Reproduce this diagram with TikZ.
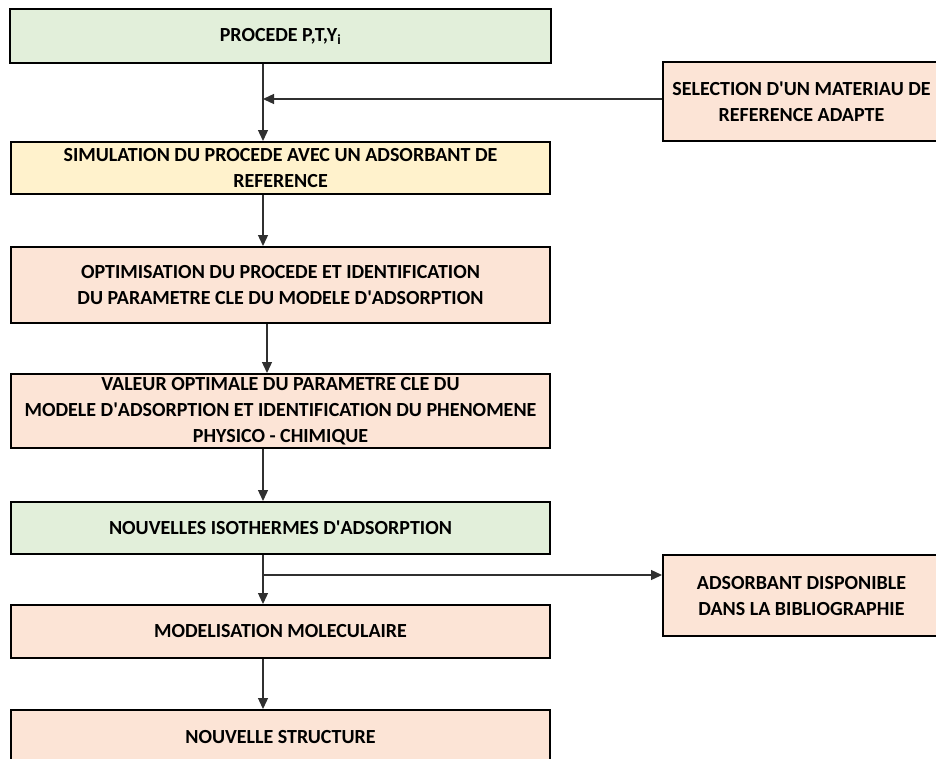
\documentclass[tikz,border=0pt]{standalone}
\usepackage{fontspec}
\setmainfont{Carlito}
\usetikzlibrary{arrows.meta,calc}
\definecolor{gfill}{HTML}{E2EFDA}
\definecolor{yfill}{HTML}{FFF2CC}
\definecolor{pfill}{HTML}{FCE4D6}
\definecolor{lnc}{HTML}{303030}
\newcommand{\ap}{\textquotesingle}
\tikzset{
  box/.style={draw=black, line width=2pt, rectangle, align=center,
    font=\fontsize{20}{26}\selectfont\bfseries, inner sep=0pt},
  flow/.style={draw=lnc, line width=1.3pt, -{Triangle[length=11pt,width=10pt]}},
}
\begin{document}
\begin{tikzpicture}[x=1pt,y=-1pt]
\useasboundingbox (0,0) rectangle (936,758);
\node[box, fill=gfill, minimum width=541pt, minimum height=54pt] (b1) at (280.5,36) {PROCEDE P,T,Y\textsubscript{i}};
\node[box, fill=pfill, minimum width=277pt, minimum height=79pt] (sel) at (801.5,101.5) {SELECTION D\ap UN MATERIAU DE\\REFERENCE ADAPTE};
\node[box, fill=yfill, minimum width=539pt, minimum height=52pt] (b2) at (280.5,168) {SIMULATION DU PROCEDE AVEC UN ADSORBANT DE\\REFERENCE};
\node[box, fill=pfill, minimum width=539pt, minimum height=76pt] (b3) at (280.5,285) {OPTIMISATION DU PROCEDE ET IDENTIFICATION\\DU PARAMETRE CLE DU MODELE D\ap ADSORPTION};
\node[box, fill=pfill, minimum width=539pt, minimum height=74pt] (b4) at (280.5,411) {VALEUR OPTIMALE DU PARAMETRE CLE DU\\MODELE D\ap ADSORPTION ET IDENTIFICATION DU PHENOMENE\\PHYSICO - CHIMIQUE};
\node[box, fill=gfill, minimum width=539pt, minimum height=52pt] (b5) at (280.5,528) {NOUVELLES ISOTHERMES D\ap ADSORPTION};
\node[box, fill=pfill, minimum width=277pt, minimum height=81pt] (ads) at (801.5,595.5) {ADSORBANT DISPONIBLE\\DANS LA BIBLIOGRAPHIE};
\node[box, fill=pfill, minimum width=539pt, minimum height=53pt] (b6) at (280.5,631.5) {MODELISATION MOLECULAIRE};
\node[box, fill=pfill, minimum width=539pt, minimum height=54pt] (b7) at (280.5,737) {NOUVELLE STRUCTURE};
\coordinate (sp) at (263,0);
\coordinate (sp2) at (267,0);
\coordinate (j1) at (263,99);
\coordinate (br) at (263,575);
\draw[flow] (b1.south -| sp) -- (b2.north -| sp);
\draw[flow] (sel.west |- j1) -- (j1);
\draw[flow] (b2.south -| sp) -- (b3.north -| sp);
\draw[flow] (b3.south -| sp2) -- (b4.north -| sp2);
\draw[flow] (b4.south -| sp) -- (b5.north -| sp);
\draw[flow] (b5.south -| sp) -- (b6.north -| sp);
\draw[flow] (br) -- (ads.west |- br);
\draw[flow] (b6.south -| sp) -- (b7.north -| sp);
\end{tikzpicture}
\end{document}
